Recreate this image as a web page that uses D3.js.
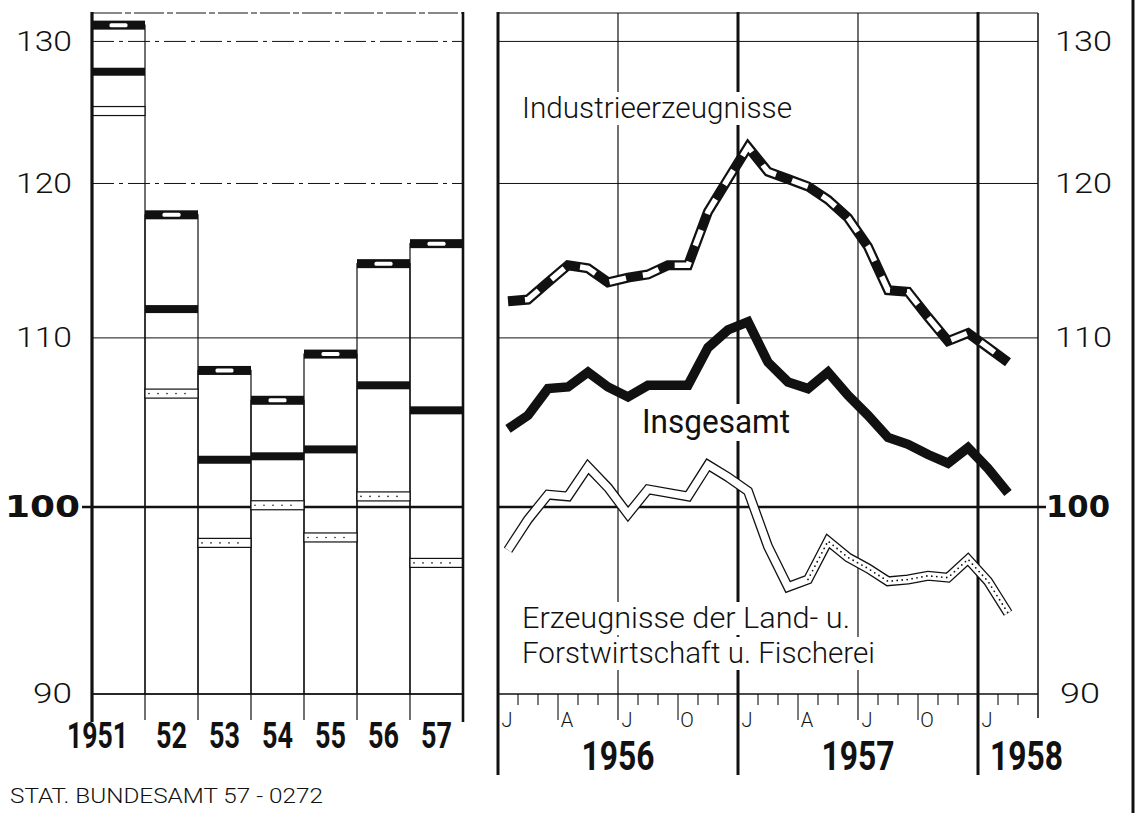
<!DOCTYPE html>
<html>
<head>
<meta charset="utf-8">
<script src="https://cdn.jsdelivr.net/npm/d3@7"></script>
<style>
  body { margin: 0; background: #fff; }
  svg { display: block; }
</style>
</head>
<body>
<div id="chart"></div>
<script>
// annual index values (left panel)
const years = ["1951", "52", "53", "54", "55", "56", "57"];
const yearIndustrie = [131.2, 117.9, 108.0, 106.2, 109.0, 114.7, 116.0];
const yearInsgesamt = [127.8, 111.8, 102.7, 102.9, 103.3, 107.1, 105.6];
const yearLand = [125.0, 106.6, 98.0, 100.1, 98.3, 100.6, 96.9];

// monthly values Jan 1956 .. Feb 1958 (right panel)
const monthIndustrie = [112.3, 112.4, 113.5, 114.6, 114.4, 113.5, 113.8, 114.0, 114.6, 114.6, 118.1, 120.3,
  122.5, 120.8, 120.3, 119.8, 118.9, 117.7, 115.8, 113.0, 112.9, 111.3, 109.8, 110.3,
  109.4, 108.5];
const monthInsgesamt = [104.5, 105.3, 106.9, 107.0, 107.9, 107.0, 106.4, 107.1, 107.1, 107.1, 109.4, 110.5,
  111.0, 108.5, 107.3, 106.9, 107.9, 106.5, 105.3, 104.0, 103.6, 103.0, 102.5, 103.4,
  102.2, 100.8];
const monthLand = [97.6, 99.3, 100.7, 100.6, 102.3, 101.1, 99.6, 101.0, 100.8, 100.6, 102.4, 101.7,
  100.9, 97.8, 95.6, 96.0, 98.1, 97.2, 96.6, 95.9, 96.0, 96.2, 96.1, 97.1,
  95.9, 94.2];

const yTicks = [90, 100, 110, 120, 130];
const quarterLabels = ["J", "A", "J", "O"];
const yearLabelsRight = ["1956", "1957", "1958"];

const thin = "Roboto, 'DejaVu Sans', sans-serif";
const bold = "Roboto, 'DejaVu Sans', sans-serif";

const svg = d3.select("#chart").append("svg")
  .attr("width", 1136)
  .attr("height", 813);

const y = d3.scaleLog().domain([90, 132.1]).range([694, 13]);
const xYear = d3.scaleBand().domain(years).range([92, 463]);
const xMonth = d3.scaleLinear().domain([0, 27]).range([498, 1038]);

// ---------- left panel grid ----------
const gl = svg.append("g");
gl.selectAll("line.h").data(yTicks.filter(d => d > 90)).join("line")
  .attr("x1", d => d === 100 ? 82 : 92).attr("x2", 463)
  .attr("y1", d => y(d)).attr("y2", d => y(d))
  .attr("stroke", "#111")
  .attr("stroke-width", d => d === 100 ? 2.6 : 1)
  .attr("stroke-dasharray", d => d >= 120 ? "22,5,4,5" : null);
gl.append("line").attr("x1", 92).attr("x2", 463).attr("y1", 13).attr("y2", 13)
  .attr("stroke", "#111").attr("stroke-dasharray", "30,3,6,3");
gl.append("line").attr("x1", 92).attr("x2", 463).attr("y1", y(90)).attr("y2", y(90))
  .attr("stroke", "#111").attr("stroke-width", 1.4);
// column separators below axis
gl.selectAll("line.sep").data(years.slice(1)).join("line")
  .attr("x1", d => xYear(d)).attr("x2", d => xYear(d))
  .attr("y1", y(90)).attr("y2", 720)
  .attr("stroke", "#111").attr("stroke-width", 1.2);

// column outlines
gl.selectAll("rect.col").data(years).join("rect")
  .attr("x", d => xYear(d)).attr("width", xYear.bandwidth())
  .attr("y", (d, i) => y(yearIndustrie[i]))
  .attr("height", (d, i) => y(90) - y(yearIndustrie[i]))
  .attr("fill", "none").attr("stroke", "#111").attr("stroke-width", 1.2);

// land band
gl.selectAll("rect.land").data(years).join("rect")
  .attr("x", d => xYear(d)).attr("width", xYear.bandwidth())
  .attr("y", (d, i) => y(yearLand[i]) - 4.5).attr("height", 9)
  .attr("fill", "#fff").attr("stroke", "#111").attr("stroke-width", 1.2);
gl.selectAll("line.landdot").data(years.slice(1)).join("line")
  .attr("x1", d => xYear(d) + 4).attr("x2", d => xYear(d) + xYear.bandwidth() - 4)
  .attr("y1", (d, i) => y(yearLand[i + 1])).attr("y2", (d, i) => y(yearLand[i + 1]))
  .attr("stroke", "#111").attr("stroke-width", 1.6)
  .attr("stroke-linecap", "round").attr("stroke-dasharray", "0,9");

// insgesamt
gl.selectAll("rect.tot").data(years).join("rect")
  .attr("x", d => xYear(d)).attr("width", xYear.bandwidth())
  .attr("y", (d, i) => y(yearInsgesamt[i]) - 4).attr("height", 8)
  .attr("fill", "#111");

// industrie
gl.selectAll("rect.ind").data(years).join("rect")
  .attr("x", d => xYear(d)).attr("width", xYear.bandwidth())
  .attr("y", (d, i) => y(yearIndustrie[i]) - 4.5).attr("height", 9)
  .attr("fill", "#111");
gl.selectAll("rect.indw").data(years).join("rect")
  .attr("x", d => xYear(d) + xYear.bandwidth() / 2 - 9).attr("width", 18)
  .attr("y", (d, i) => y(yearIndustrie[i]) - 2).attr("height", 4)
  .attr("rx", 1.5)
  .attr("fill", "#fff");

// left borders
[92, 463].forEach(x => {
  gl.append("line").attr("x1", x).attr("x2", x).attr("y1", 12).attr("y2", 722)
    .attr("stroke", "#111").attr("stroke-width", x === 92 ? 3.2 : 2.6);
});

// left axis labels
svg.append("g").attr("transform", "translate(92,0)")
  .call(d3.axisLeft(y).tickValues(yTicks).tickFormat(d => d).tickSize(0).tickPadding(20))
  .call(g => g.select(".domain").remove())
  .call(g => g.selectAll("text")
    .attr("fill", "#111")
    .attr("font-family", d => d === 100 ? "'DejaVu Sans', sans-serif" : thin)
    .attr("font-weight", d => d === 100 ? "bold" : 300)
    .attr("font-size", d => d === 100 ? 31 : 27)
    .attr("x", d => d === 100 ? -12 : -20)
    .attr("textLength", d => d === 100 ? 75 : d === 90 ? 39 : 56)
    .attr("lengthAdjust", "spacingAndGlyphs"));

// left year labels
svg.append("g").attr("transform", "translate(0,694)")
  .call(d3.axisBottom(xYear).tickSize(0))
  .call(g => g.select(".domain").remove())
  .call(g => g.selectAll("text")
    .attr("fill", "#111")
    .attr("font-family", bold).attr("font-weight", "bold").attr("font-size", 36)
    .attr("y", 54).attr("dy", 0)
    .attr("x", d => d === "1951" ? -21 : 0)
    .attr("textLength", d => d === "1951" ? 61 : 31)
    .attr("lengthAdjust", "spacingAndGlyphs"));

// ---------- right panel grid ----------
const gr = svg.append("g");
gr.selectAll("line.h").data(yTicks.filter(d => d > 90)).join("line")
  .attr("x1", 498).attr("x2", d => d === 100 ? 1046 : 1038)
  .attr("y1", d => y(d)).attr("y2", d => y(d))
  .attr("stroke", "#111")
  .attr("stroke-width", d => d === 100 ? 2.6 : 1);
gr.append("line").attr("x1", 498).attr("x2", 1038).attr("y1", 13).attr("y2", 13)
  .attr("stroke", "#111");
gr.append("line").attr("x1", 498).attr("x2", 1038).attr("y1", y(90)).attr("y2", y(90))
  .attr("stroke", "#111").attr("stroke-width", 1.4);

// month ticks
gr.selectAll("line.tick").data(d3.range(1, 27).filter(i => i % 12 !== 0)).join("line")
  .attr("x1", d => xMonth(d)).attr("x2", d => xMonth(d))
  .attr("y1", d => d % 6 === 0 ? 13 : y(90))
  .attr("y2", d => d % 3 === 0 ? 720 : 705)
  .attr("stroke", "#111").attr("stroke-width", d => d % 6 === 0 ? 1.2 : 1.1);
gr.append("line").attr("x1", xMonth(27)).attr("x2", xMonth(27)).attr("y1", 13).attr("y2", 718)
  .attr("stroke", "#111").attr("stroke-width", 1.5);

// year dividers
const gDiv = svg.append("g");
gDiv.selectAll("line").data([0, 12, 24]).join("line")
  .attr("x1", d => xMonth(d)).attr("x2", d => xMonth(d))
  .attr("y1", 12).attr("y2", 775)
  .attr("stroke", "#111").attr("stroke-width", 3);

// white boxes behind in-chart labels
const gKnock = svg.append("g");
const gLabel = svg.append("g");

// right axis labels
svg.append("g").attr("transform", "translate(1038,0)")
  .call(d3.axisRight(y).tickValues(yTicks).tickFormat(d => d).tickSize(0).tickPadding(17))
  .call(g => g.select(".domain").remove())
  .call(g => g.selectAll("text")
    .attr("fill", "#111")
    .attr("font-family", d => d === 100 ? "'DejaVu Sans', sans-serif" : thin)
    .attr("font-weight", d => d === 100 ? "bold" : 300)
    .attr("font-size", d => d === 100 ? 31 : 27)
    .attr("x", d => d === 100 ? 8 : d === 90 ? 22 : 17)
    .attr("textLength", d => d === 100 ? 64 : d === 90 ? 40 : 57)
    .attr("lengthAdjust", "spacingAndGlyphs"));

// month letters
gr.selectAll("text.m").data(d3.range(0, 27, 3)).join("text")
  .attr("x", d => xMonth(d + 0.45)).attr("y", 727)
  .attr("text-anchor", "middle")
  .attr("font-family", thin).attr("font-weight", 300).attr("font-size", 20)
  .attr("fill", "#111")
  .text(d => quarterLabels[(d / 3) % 4]);

// year labels right
gr.selectAll("text.yr").data(yearLabelsRight).join("text")
  .attr("x", (d, i) => i < 2 ? xMonth(i * 12 + 6) : xMonth(24) + 12)
  .attr("y", 770)
  .attr("text-anchor", (d, i) => i < 2 ? "middle" : "start")
  .attr("font-family", bold).attr("font-weight", "bold").attr("font-size", 41)
  .attr("fill", "#111")
  .attr("textLength", 73).attr("lengthAdjust", "spacingAndGlyphs")
  .text(d => d);

// in-chart labels
const labels = [
  { t: "Industrieerzeugnisse", x: 522, y: 118, w: 270, s: 30 },
  { t: "Insgesamt", x: 642, y: 433, w: 148, s: 33 },
  { t: "Erzeugnisse der Land- u.", x: 522, y: 628, w: 328, s: 30 },
  { t: "Forstwirtschaft u. Fischerei", x: 522, y: 663, w: 353, s: 30 }
];
gLabel.selectAll("text").data(labels).join("text")
  .attr("x", d => d.x).attr("y", d => d.y)
  .attr("font-family", thin).attr("font-weight", d => d.t === "Insgesamt" ? 400 : 300)
  .attr("font-size", d => d.s)
  .attr("fill", "#111")
  .attr("textLength", d => d.w).attr("lengthAdjust", "spacingAndGlyphs")
  .text(d => d.t)
  .each(function () {
    const b = this.getBBox();
    gKnock.append("rect")
      .attr("x", b.x - 4).attr("y", b.y + 2)
      .attr("width", b.width + 8).attr("height", b.height - 2)
      .attr("fill", "#fff");
  });

// ---------- monthly lines ----------
const line = d3.line()
  .x((d, i) => xMonth(i + 0.5))
  .y(d => y(d));
const gLines = svg.append("g")
  .attr("fill", "none")
  .attr("stroke-linejoin", "miter").attr("stroke-miterlimit", 3);

// land / forest: hollow double line
gLines.append("path").attr("d", line(monthLand))
  .attr("stroke", "#111").attr("stroke-width", 10);
gLines.append("path").attr("d", line(monthLand))
  .attr("stroke", "#fff").attr("stroke-width", 7.4);
const lineFrom = k => d3.line().x((d, i) => xMonth(i + k + 0.5)).y(d => y(d));
gLines.append("path").attr("d", lineFrom(15)(monthLand.slice(15)))
  .attr("stroke", "#111").attr("stroke-width", 1.8)
  .attr("stroke-linecap", "round").attr("stroke-dasharray", "0,5");

// total
gLines.append("path").attr("d", line(monthInsgesamt))
  .attr("stroke", "#111").attr("stroke-width", 9.5);

// industry: black with white dashes
gLines.append("path").attr("d", line(monthIndustrie))
  .attr("stroke", "#111").attr("stroke-width", 10);
gLines.append("path").attr("d", line(monthIndustrie))
  .attr("stroke", "#fff").attr("stroke-width", 5.5)
  .attr("stroke-dasharray", "17,17").attr("stroke-dashoffset", 17);

// ---------- frame and footer ----------
svg.append("line").attr("x1", 1133).attr("x2", 1133).attr("y1", 0).attr("y2", 813)
  .attr("stroke", "#111").attr("stroke-width", 3);

svg.append("text")
  .attr("x", 10).attr("y", 803)
  .attr("font-family", thin).attr("font-weight", 300).attr("font-size", 20)
  .attr("fill", "#111")
  .attr("textLength", 313).attr("lengthAdjust", "spacingAndGlyphs")
  .text("STAT. BUNDESAMT 57 - 0272");
</script>
</body>
</html>
